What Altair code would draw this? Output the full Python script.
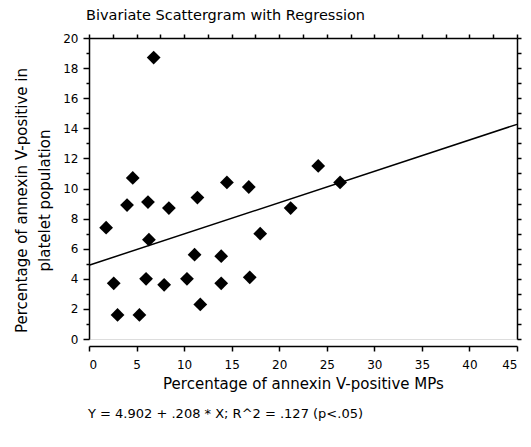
import altair as alt
import pandas as pd

# Data
mp_pct = [6.8, 4.6, 14.5, 16.8, 4.0, 6.2, 8.4, 11.4, 21.2, 1.8, 6.3, 18.0, 11.1,
          13.9, 2.6, 6.0, 7.9, 10.3, 13.9, 16.9, 11.7, 3.0, 5.3, 24.1, 26.4]
platelet_pct = [18.7, 10.7, 10.4, 10.1, 8.9, 9.1, 8.7, 9.4, 8.7, 7.4, 6.6, 7.0, 5.6,
                5.5, 3.7, 4.0, 3.6, 4.0, 3.7, 4.1, 2.3, 1.6, 1.6, 11.5, 10.4]

# Regression line from the reported equation Y = 4.902 + .208 * X
reg_x = [0, 45]
reg_y = [4.902, 4.902 + 0.208 * 45]

x_ticks = [0, 5, 10, 15, 20, 25, 30, 35, 40, 45]
x_top_ticks = [i * 2.5 for i in range(19)]
y_ticks = list(range(0, 21))

footer = "Y = 4.902 + .208 * X; R^2 = .127 (p<.05)"
FONT = "DejaVu Sans"

pts = pd.DataFrame({"x": mp_pct, "y": platelet_pct})
reg = pd.DataFrame({"x": reg_x, "y": reg_y})

xscale = alt.Scale(domain=[0, 45], nice=False, zero=True)
yscale = alt.Scale(domain=[0, 20], nice=False, zero=True)

points = alt.Chart(pts).mark_point(
    shape="diamond", filled=True, size=190, color="black", opacity=1
).encode(
    x=alt.X("x:Q", scale=xscale, axis=alt.Axis(
        orient="bottom", values=x_ticks, offset=7, tickSize=5, labelPadding=8,
        domainColor="black", tickColor="black", domainWidth=1.5, tickWidth=1.5,
        grid=False, labelFont=FONT, labelFontSize=12, labelColor="black",
        title="Percentage of annexin V-positive MPs", titleFont=FONT,
        titleFontSize=15, titleFontWeight="normal", titleColor="black",
        titlePadding=6,
    )),
    y=alt.Y("y:Q", scale=yscale, axis=alt.Axis(
        orient="left", values=y_ticks,
        labelExpr="datum.value % 2 == 0 ? datum.label : ''",
        tickSize=alt.ConditionalAxisNumber(
            condition={"test": "datum.value % 2 == 0", "value": 6}, value=3),
        labelPadding=5, domainColor="black", tickColor="black",
        domainWidth=1.5, tickWidth=1.5, grid=False, labelFont=FONT,
        labelFontSize=12, labelColor="black",
        title=["Percentage of annexin V-positive in", "platelet population"],
        titleFont=FONT, titleFontSize=15, titleFontWeight="normal",
        titleColor="black", titlePadding=10, titleLineHeight=23, titleY=162,
    )),
)

line = alt.Chart(reg).mark_line(color="black", strokeWidth=1.5).encode(
    x=alt.X("x:Q", scale=xscale, axis=alt.Axis(
        orient="top", values=x_top_ticks, labels=False, tickSize=4,
        domainColor="black", tickColor="black", domainWidth=1.5, tickWidth=1.5,
        grid=False, title="",
    )),
    y=alt.Y("y:Q", scale=yscale, axis=alt.Axis(
        orient="right", values=y_ticks, labels=False, tickSize=4,
        domainColor="black", tickColor="black", domainWidth=1.5, tickWidth=1.5,
        grid=False, title="",
    )),
)

note = alt.Chart(pd.DataFrame({"t": [footer]})).mark_text(
    align="left", baseline="middle", font=FONT, fontSize=13, color="black"
).encode(text="t:N", x=alt.value(-1), y=alt.value(376))

chart = alt.layer(points, line, note).resolve_axis(
    x="independent", y="independent"
).properties(
    width=428, height=301,
    title=alt.TitleParams(
        "Bivariate Scattergram with Regression", anchor="start", frame="group",
        font=FONT, fontSize=14.5, fontWeight="normal", color="black",
        offset=9, dx=-3,
    ),
    autosize=alt.AutoSizeParams(type="none"),
    padding={"left": 89, "top": 38, "right": 14, "bottom": 108},
).configure_view(stroke=None).configure(background="white")

chart.save("out.html", embed_options={"renderer": "svg", "actions": False})
